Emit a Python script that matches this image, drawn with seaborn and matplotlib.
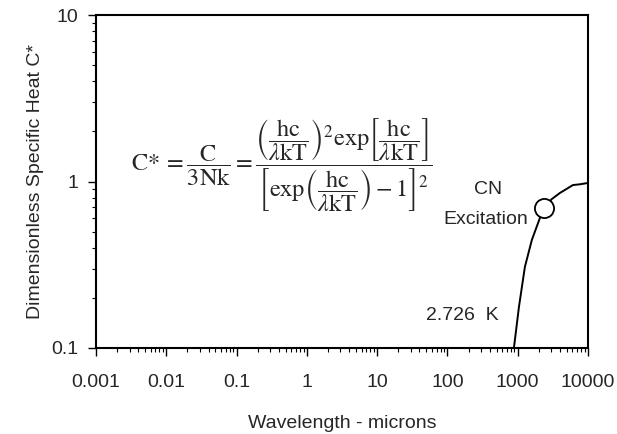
import numpy as np
import pandas as pd
import matplotlib
matplotlib.use("Agg")
import matplotlib.pyplot as plt
import seaborn as sns
from matplotlib.ticker import LogLocator, FixedLocator, FixedFormatter, NullFormatter

# values (T = 2.726 K)
wavelength = [870, 1040, 1265, 1590, 2070, 2360, 3060, 3980, 6100, 7670, 10000]
c_star = [0.095, 0.176, 0.307, 0.446, 0.604, 0.693, 0.785, 0.853, 0.952, 0.962, 0.98]

marker_x = [2360]
marker_y = [0.693]

x_ticks = [0.001, 0.01, 0.1, 1, 10, 100, 1000, 10000]
x_tick_labels = ["0.001", "0.01", "0.1", "1", "10", "100", "1000", "10000"]
y_ticks = [0.1, 1, 10]
y_tick_labels = ["0.1", "1", "10"]

df = pd.DataFrame({"Wavelength": wavelength, "C": c_star})

sns.set_theme(style="white")
plt.rcParams["font.family"] = ["Liberation Sans", "DejaVu Sans"]
plt.rcParams["mathtext.fontset"] = "stix"

fig = plt.figure(figsize=(6.17, 4.34), dpi=100)
ax = fig.add_axes([96 / 617, 1 - 348 / 434, 492 / 617, 333 / 434])
ax.set_xscale("log")
ax.set_yscale("log")

sns.lineplot(data=df, x="Wavelength", y="C", color="black", linewidth=1.4,
             sort=False, estimator=None, ax=ax)
ax.scatter(marker_x, marker_y, s=190, facecolor="white", edgecolor="black",
           linewidth=1.3, zorder=5)

ax.set_xlim(0.001, 10000)
ax.set_ylim(0.1, 10)

ax.xaxis.set_major_locator(FixedLocator(x_ticks))
ax.xaxis.set_major_formatter(FixedFormatter(x_tick_labels))
ax.xaxis.set_minor_locator(LogLocator(base=10, subs=np.arange(2, 10), numticks=20))
ax.xaxis.set_minor_formatter(NullFormatter())
ax.yaxis.set_major_locator(FixedLocator(y_ticks))
ax.yaxis.set_major_formatter(FixedFormatter(y_tick_labels))
ax.yaxis.set_minor_locator(LogLocator(base=10, subs=np.arange(2, 10), numticks=20))
ax.yaxis.set_minor_formatter(NullFormatter())

ax.tick_params(which="major", direction="out", length=6, width=1, color="black",
               labelsize=14, bottom=True, left=True, top=False, right=False)
ax.tick_params(which="minor", direction="out", length=3, width=0.8, color="black",
               bottom=True, left=True, top=False, right=False)
ax.tick_params(axis="x", which="major", pad=13)
ax.tick_params(axis="y", which="major", pad=7)

for s in ax.spines.values():
    s.set_color("black")
    s.set_linewidth(1.5)

ax.set_xlabel("Wavelength - microns", fontsize=14, labelpad=17)
ax.set_ylabel("Dimensionless Specific Heat C*", fontsize=14, labelpad=5)

eq = (r"$\mathrm{C}\!* = \dfrac{\mathrm{C}}{\mathrm{3Nk}} = "
      r"\dfrac{\left(\dfrac{\mathrm{hc}}{\lambda\mathrm{kT}}\right)^{2}\mathrm{exp}"
      r"\left[\dfrac{\mathrm{hc}}{\lambda\mathrm{kT}}\right]}"
      r"{\left[\mathrm{exp}\left(\dfrac{\mathrm{hc}}{\lambda\mathrm{kT}}\right)-1\right]^{2}}$")
ax.text(0.377, 0.55, eq, transform=ax.transAxes, ha="center", va="center", fontsize=17.5)

ax.text(0.797, 0.477, "CN", transform=ax.transAxes, ha="center", va="center", fontsize=14)
ax.text(0.793, 0.387, "Excitation", transform=ax.transAxes, ha="center", va="center", fontsize=14)
ax.text(0.744, 0.099, "2.726  K", transform=ax.transAxes, ha="center", va="center", fontsize=14)

fig.savefig("out.png", dpi=100)
